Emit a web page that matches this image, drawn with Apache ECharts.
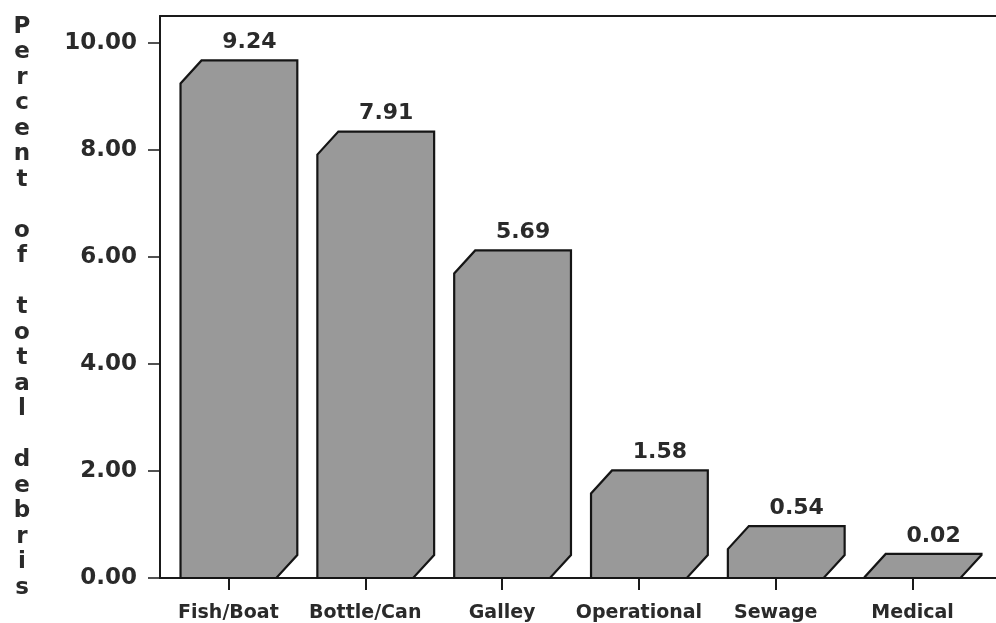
<!DOCTYPE html>
<html>
<head>
<meta charset="utf-8">
<script src="https://cdn.jsdelivr.net/npm/echarts@6/dist/echarts.min.js"></script>
<style>html,body{margin:0;padding:0;background:#fff;}#main{width:996px;height:623px;}</style>
</head>
<body>
<div id="main"></div>
<script>
var categories = ['Fish/Boat', 'Bottle/Can', 'Galley', 'Operational', 'Sewage', 'Medical'];
var values = [9.24, 7.91, 5.69, 1.58, 0.54, 0.02];
var valueLabels = ['9.24', '7.91', '5.69', '1.58', '0.54', '0.02'];
var yTickLabels = ['0.00', '2.00', '4.00', '6.00', '8.00', '10.00'];
var axisTitle = 'Percent of total debris';

var FONT = '"DejaVu Sans", sans-serif';
var chart = echarts.init(document.getElementById('main'), null, {renderer: 'canvas'});

function renderBar(params, api) {
  var idx = api.value(0);
  var v = api.value(1);
  var base = api.coord([idx, 0]);
  var top = api.coord([idx, v]);
  var band = api.size([1, 0])[0];
  var w = band * 0.70;
  var d = 21, dy = 23;
  var x0 = base[0] - w / 2, x1 = base[0] + w / 2;
  var y0 = base[1], yv = Math.min(top[1], y0 - 1);
  var pts = [[x0, y0], [x0, yv], [x0 + d, yv - dy], [x1 + d, yv - dy], [x1 + d, y0 - dy], [x1, y0]];
  return {
    type: 'group',
    children: [
      {type: 'polygon', shape: {points: pts},
       style: {fill: '#999999', stroke: '#151515', lineWidth: 2.2}},
      {type: 'text', x: base[0] + d, y: yv - dy - 7,
       style: {text: valueLabels[idx], fill: '#2a2a2a', font: 'bold 22px ' + FONT,
               textAlign: 'center', textVerticalAlign: 'bottom'}}
    ]
  };
}

var titleGraphic = {
  type: 'text', left: 10, top: 14,
  style: {text: axisTitle.split('').join('\n'), fill: '#2a2a2a',
          font: 'bold 23px ' + FONT, lineHeight: 25.5, textAlign: 'center', width: 24}
};

var option = {
  backgroundColor: '#ffffff',
  animation: false,
  grid: {left: 160, right: 15, top: 16, bottom: 44},
  graphic: [titleGraphic],
  xAxis: [{
    type: 'category', data: categories,
    axisLine: {show: true, lineStyle: {color: '#1a1a1a', width: 2}},
    axisTick: {show: true, alignWithLabel: true, length: 12, lineStyle: {color: '#1a1a1a', width: 2}},
    axisLabel: {show: true, interval: 0, margin: 26, color: '#2a2a2a',
                fontFamily: FONT, fontWeight: 'bold', fontSize: 19},
    splitLine: {show: false}
  }, {
    type: 'category', data: categories, position: 'top',
    axisLine: {show: true, lineStyle: {color: '#1a1a1a', width: 2}},
    axisTick: {show: false}, axisLabel: {show: false}, splitLine: {show: false}
  }],
  yAxis: {
    type: 'value', min: 0, max: 10.5, interval: 2,
    axisLine: {show: true, lineStyle: {color: '#1a1a1a', width: 2}},
    axisTick: {show: true, length: 12, lineStyle: {color: '#1a1a1a', width: 1.5}},
    axisLabel: {show: true, margin: 23, showMaxLabel: false, color: '#2a2a2a',
                fontFamily: FONT, fontWeight: 'bold', fontSize: 23,
                formatter: function (val) { var i = Math.round(val / 2); return yTickLabels[i] || ''; }},
    splitLine: {show: false}
  },
  series: [{
    type: 'custom',
    renderItem: renderBar,
    encode: {x: 0, y: 1},
    data: values.map(function (v, i) { return [i, v]; }),
    clip: false
  }]
};
chart.setOption(option);

// extend the frame lines to the right edge, as in the reference
var rect = chart.getModel().getComponent('grid').coordinateSystem.getRect();
var W = chart.getWidth();
chart.setOption({graphic: [
  titleGraphic,
  {type: 'line', shape: {x1: rect.x + rect.width, y1: rect.y, x2: W, y2: rect.y},
   style: {stroke: '#1a1a1a', lineWidth: 2}},
  {type: 'line', shape: {x1: rect.x + rect.width, y1: rect.y + rect.height, x2: W, y2: rect.y + rect.height},
   style: {stroke: '#1a1a1a', lineWidth: 2}}
]}, {replaceMerge: ['graphic']});
</script>
</body>
</html>
